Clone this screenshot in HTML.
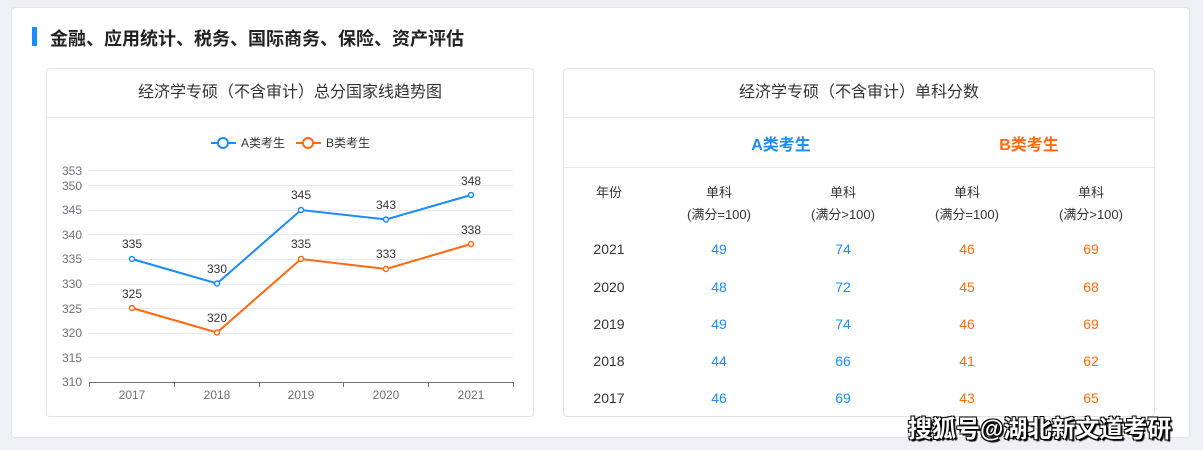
<!DOCTYPE html><html><head><meta charset="utf-8"><style>
body{margin:0;width:1203px;height:450px;background:#eef0f3;font-family:"Liberation Sans","Noto Sans CJK SC",sans-serif;position:relative;overflow:hidden}
.card{position:absolute;left:11px;top:7px;width:1179px;height:431px;background:#fff;border-radius:4px;border:1px solid #e3e5e8;box-sizing:border-box}
.bar{position:absolute;left:32px;top:27px;width:5px;height:19px;background:#1a8cff}
.title{position:absolute;left:50px;top:25px;font-size:18px;font-weight:bold;color:#222}
.panel{position:absolute;top:68px;height:349px;border:1px solid #e2e4e8;border-radius:4px;box-sizing:border-box;background:#fff}
.ph{height:48px;border-bottom:1px solid #e6e8eb;text-align:center;line-height:47px;font-size:16px;color:#333}
.t{position:absolute;font-size:14px;text-align:center;transform:translateX(-50%)}
.a{color:#1a8cff}.b{color:#ff6a10}.k{color:#333}
</style></head><body>
<div class="card"></div>
<div class="bar"></div><div class="title">金融、应用统计、税务、国际商务、保险、资产评估</div>
<div class="panel" style="left:46px;width:488px"><div class="ph">经济学专硕（不含审计）总分国家线趋势图</div></div>
<div class="panel" style="left:563px;width:592px"><div class="ph">经济学专硕（不含审计）单科分数</div>
<div style="position:absolute;left:0;right:0;top:98px;border-top:1px solid #e6e8eb"></div></div>
<svg style="position:absolute;left:0;top:0" width="1203" height="450" font-family="Liberation Sans, Noto Sans CJK SC, sans-serif">
<g stroke="#e4e8f0" stroke-width="1">
<line x1="89" x2="513" y1="170.5" y2="170.5"/><line x1="89" x2="513" y1="185.5" y2="185.5"/><line x1="89" x2="513" y1="210.5" y2="210.5"/><line x1="89" x2="513" y1="234.5" y2="234.5"/><line x1="89" x2="513" y1="259.5" y2="259.5"/><line x1="89" x2="513" y1="284.5" y2="284.5"/><line x1="89" x2="513" y1="308.5" y2="308.5"/><line x1="89" x2="513" y1="333.5" y2="333.5"/><line x1="89" x2="513" y1="357.5" y2="357.5"/></g>
<g stroke="#6e7079"><line x1="89" x2="513" y1="382.5" y2="382.5"/>
<line x1="89.5" x2="89.5" y1="382" y2="387"/><line x1="174.5" x2="174.5" y1="382" y2="387"/><line x1="259.5" x2="259.5" y1="382" y2="387"/><line x1="343.5" x2="343.5" y1="382" y2="387"/><line x1="428.5" x2="428.5" y1="382" y2="387"/><line x1="513.5" x2="513.5" y1="382" y2="387"/></g>
<g font-size="12" fill="#6e7079" text-anchor="end"><text x="82" y="175">353</text><text x="82" y="190">350</text><text x="82" y="214">345</text><text x="82" y="239">340</text><text x="82" y="263">335</text><text x="82" y="288">330</text><text x="82" y="313">325</text><text x="82" y="337">320</text><text x="82" y="362">315</text><text x="82" y="386">310</text></g>
<g font-size="12" fill="#6e7079" text-anchor="middle"><text x="132" y="399">2017</text><text x="217" y="399">2018</text><text x="301" y="399">2019</text><text x="386" y="399">2020</text><text x="471" y="399">2021</text></g>
<polyline fill="none" stroke="#1a8cff" stroke-width="2" points="132,259 217,283.5 301,210 386,219.5 471,195"/>
<polyline fill="none" stroke="#ff6a10" stroke-width="2" points="132,308 217,332.5 301,259 386,269 471,244"/>
<g fill="#fff" stroke="#1a8cff" stroke-width="1.5"><circle cx="132" cy="259" r="2.5"/><circle cx="217" cy="283.5" r="2.5"/><circle cx="301" cy="210" r="2.5"/><circle cx="386" cy="219.5" r="2.5"/><circle cx="471" cy="195" r="2.5"/></g>
<g fill="#fff" stroke="#ff6a10" stroke-width="1.5"><circle cx="132" cy="308" r="2.5"/><circle cx="217" cy="332.5" r="2.5"/><circle cx="301" cy="259" r="2.5"/><circle cx="386" cy="269" r="2.5"/><circle cx="471" cy="244" r="2.5"/></g>
<g font-size="12" fill="#333" text-anchor="middle"><text x="132" y="248">335</text><text x="217" y="273">330</text><text x="301" y="199">345</text><text x="386" y="209">343</text><text x="471" y="185">348</text>
<text x="132" y="298">325</text><text x="217" y="322">320</text><text x="301" y="248">335</text><text x="386" y="258">333</text><text x="471" y="234">338</text></g>
<line x1="211" x2="236" y1="143" y2="143" stroke="#1a8cff" stroke-width="2"/><circle cx="223" cy="143" r="5" fill="#fff" stroke="#1a8cff" stroke-width="2"/>
<text x="241" y="147" font-size="12" fill="#333">A类考生</text>
<line x1="296" x2="321" y1="143" y2="143" stroke="#ff6a10" stroke-width="2"/><circle cx="308" cy="143" r="5" fill="#fff" stroke="#ff6a10" stroke-width="2"/>
<text x="326" y="147" font-size="12" fill="#333">B类考生</text>
</svg>
<div class="t a" style="left:781px;top:131px;font-size:16px;font-weight:bold">A类考生</div>
<div class="t b" style="left:1029px;top:131px;font-size:16px;font-weight:bold">B类考生</div>
<div class="t k" style="left:609px;top:182px;font-size:13px">年份</div>
<div class="t k" style="left:719px;top:182px;font-size:13px;line-height:22px">单科<br>(满分=100)</div>
<div class="t k" style="left:843px;top:182px;font-size:13px;line-height:22px">单科<br>(满分&gt;100)</div>
<div class="t k" style="left:967px;top:182px;font-size:13px;line-height:22px">单科<br>(满分=100)</div>
<div class="t k" style="left:1091px;top:182px;font-size:13px;line-height:22px">单科<br>(满分&gt;100)</div>
<div class="t k" style="left:609px;top:241px">2021</div><div class="t a" style="left:719px;top:241px">49</div><div class="t a" style="left:843px;top:241px">74</div><div class="t b" style="left:967px;top:241px">46</div><div class="t b" style="left:1091px;top:241px">69</div>
<div class="t k" style="left:609px;top:279px">2020</div><div class="t a" style="left:719px;top:279px">48</div><div class="t a" style="left:843px;top:279px">72</div><div class="t b" style="left:967px;top:279px">45</div><div class="t b" style="left:1091px;top:279px">68</div>
<div class="t k" style="left:609px;top:316px">2019</div><div class="t a" style="left:719px;top:316px">49</div><div class="t a" style="left:843px;top:316px">74</div><div class="t b" style="left:967px;top:316px">46</div><div class="t b" style="left:1091px;top:316px">69</div>
<div class="t k" style="left:609px;top:353px">2018</div><div class="t a" style="left:719px;top:353px">44</div><div class="t a" style="left:843px;top:353px">66</div><div class="t b" style="left:967px;top:353px">41</div><div class="t b" style="left:1091px;top:353px">62</div>
<div class="t k" style="left:609px;top:390px">2017</div><div class="t a" style="left:719px;top:390px">46</div><div class="t a" style="left:843px;top:390px">69</div><div class="t b" style="left:967px;top:390px">43</div><div class="t b" style="left:1091px;top:390px">65</div>
<div style="position:absolute;left:908px;top:409px;font-size:24px;font-weight:bold;color:#fff;text-shadow:1px 1px 0 #000,-1px -1px 0 #000,1px -1px 0 #000,-1px 1px 0 #000,2px 2px 1px #000;letter-spacing:0px">搜狐号@湖北新文道考研</div>
</body></html>
